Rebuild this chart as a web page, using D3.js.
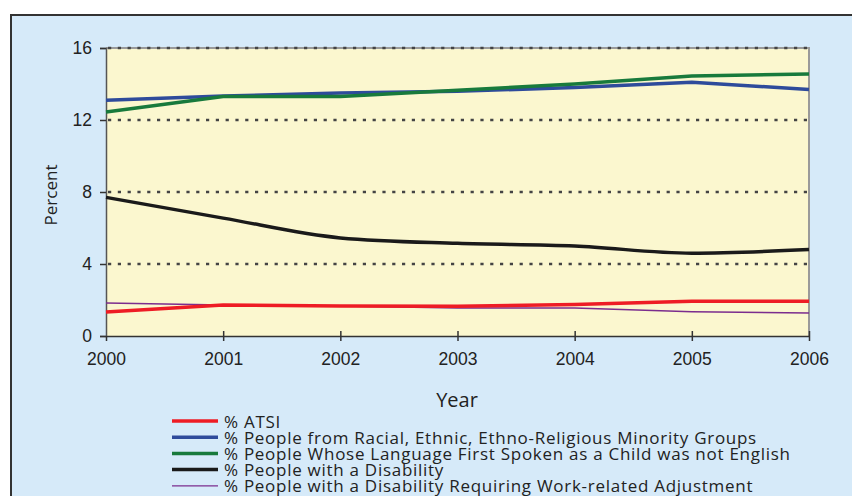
<!DOCTYPE html>
<html>
<head>
<meta charset="utf-8">
<script src="https://cdn.jsdelivr.net/npm/d3@7"></script>
<style>
  body { margin: 0; background: #fff; }
  svg { display: block; font-family: "Open Sans", "DejaVu Sans", sans-serif; }
</style>
</head>
<body>
<div id="chart"></div>
<script>
const years = [2000, 2001, 2002, 2003, 2004, 2005, 2006];
const yTicks = [0, 4, 8, 12, 16];

const atsi       = [1.33, 1.72, 1.67, 1.65, 1.75, 1.93, 1.93];
const minority   = [13.1, 13.33, 13.5, 13.6, 13.8, 14.1, 13.7];
const language   = [12.45, 13.3, 13.3, 13.65, 14.0, 14.45, 14.55];
const disability = [7.7, 6.55, 5.45, 5.15, 5.0, 4.6, 4.8];
const adjustment = [1.83, 1.72, 1.67, 1.55, 1.55, 1.35, 1.28];

const seriesNames = [
  "% ATSI",
  "% People from Racial, Ethnic, Ethno-Religious Minority Groups",
  "% People Whose Language First Spoken as a Child was not English",
  "% People with a Disability",
  "% People with a Disability Requiring Work-related Adjustment"
];
const seriesValues = [atsi, minority, language, disability, adjustment];
const colors = ["#ee1c25", "#2e4b9b", "#187a3c", "#1a1a1a", "#7b2d8e"];
const widths = [3.5, 3.5, 3.5, 3.5, 1.5];

const W = 852, H = 496;
const margin = {top: 48, right: 43, bottom: 160, left: 106};

const svg = d3.select("#chart").append("svg")
  .attr("width", W).attr("height", H);

// outer frame
svg.append("rect")
  .attr("x", 11).attr("y", 15).attr("width", W + 20).attr("height", H)
  .attr("fill", "#d6eaf9").attr("stroke", "#333").attr("stroke-width", 2);

const x = d3.scaleLinear()
  .domain([2000, 2006])
  .range([margin.left, W - margin.right]);

const y = d3.scaleLinear()
  .domain([0, 16])
  .range([H - margin.bottom, margin.top]);

// plot background
svg.append("rect")
  .attr("x", x(2000)).attr("y", y(16))
  .attr("width", x(2006) - x(2000)).attr("height", y(0) - y(16))
  .attr("fill", "#fbf7cf");

// gray right / top border
svg.append("path")
  .attr("d", `M${x(2000)},${y(16)}H${x(2006)}V${y(0)}`)
  .attr("fill", "none").attr("stroke", "#9a9a9a").attr("stroke-width", 2);

// gridlines
svg.append("g")
  .selectAll("line")
  .data(yTicks.filter(d => d > 0))
  .join("line")
  .attr("x1", x(2000) + 2).attr("x2", x(2006))
  .attr("y1", d => y(d)).attr("y2", d => y(d))
  .attr("stroke", "#444").attr("stroke-width", 2.4)
  .attr("stroke-dasharray", "3.2,6.6");

// y axis
const yAxis = svg.append("g")
  .attr("transform", `translate(${x(2000)},0)`)
  .call(d3.axisLeft(y).tickValues(yTicks).tickSize(6).tickPadding(8));
yAxis.select(".domain").attr("stroke", "#555").attr("stroke-width", 1.5);
yAxis.selectAll(".tick line").attr("stroke", "#333").attr("stroke-width", 1.5);
yAxis.selectAll("text").attr("font-size", 17.5).attr("fill", "#222");

// x axis
const xAxis = svg.append("g")
  .attr("transform", `translate(0,${y(0)})`)
  .call(d3.axisBottom(x).tickValues(years).tickFormat(d3.format("d"))
    .tickSizeInner(5).tickSizeOuter(0).tickPadding(12));
xAxis.select(".domain").attr("stroke", "#333").attr("stroke-width", 1.5);
xAxis.selectAll(".tick line")
  .attr("y1", d => d === 2000 ? 0 : -5)
  .attr("stroke", "#333").attr("stroke-width", 1.5);
xAxis.selectAll("text").attr("font-size", 17.5).attr("fill", "#222");

// lines
const lineLinear = d3.line()
  .x((d, i) => x(years[i]))
  .y(d => y(d));
const lineSmooth = d3.line()
  .x((d, i) => x(years[i]))
  .y(d => y(d))
  .curve(d3.curveMonotoneX);

const drawOrder = [4, 3, 0, 1, 2];
svg.append("g")
  .selectAll("path")
  .data(drawOrder)
  .join("path")
  .attr("d", i => (i === 3 ? lineSmooth : lineLinear)(seriesValues[i]))
  .attr("fill", "none")
  .attr("stroke", i => colors[i])
  .attr("stroke-width", i => widths[i])
  .attr("stroke-linejoin", "round");

// axis titles
svg.append("text")
  .attr("x", 457).attr("y", 407)
  .attr("text-anchor", "middle")
  .attr("font-size", 20).attr("fill", "#222")
  .text("Year");

svg.append("text")
  .attr("transform", `translate(57,195) rotate(-90)`)
  .attr("text-anchor", "middle")
  .attr("font-size", 17).attr("fill", "#222")
  .text("Percent");

// legend
const legend = svg.append("g")
  .selectAll("g")
  .data(seriesNames)
  .join("g")
  .attr("transform", (d, i) => `translate(172,${421 + i * 16.2})`);

legend.append("line")
  .attr("x1", 0).attr("x2", 46)
  .attr("stroke", (d, i) => colors[i])
  .attr("stroke-width", (d, i) => widths[i] === 1.5 ? 1.2 : 3.5);

legend.append("text")
  .attr("x", 52).attr("y", 6.5)
  .attr("font-size", 17).attr("letter-spacing", 0.72).attr("fill", "#222")
  .text(d => d);
</script>
</body>
</html>
